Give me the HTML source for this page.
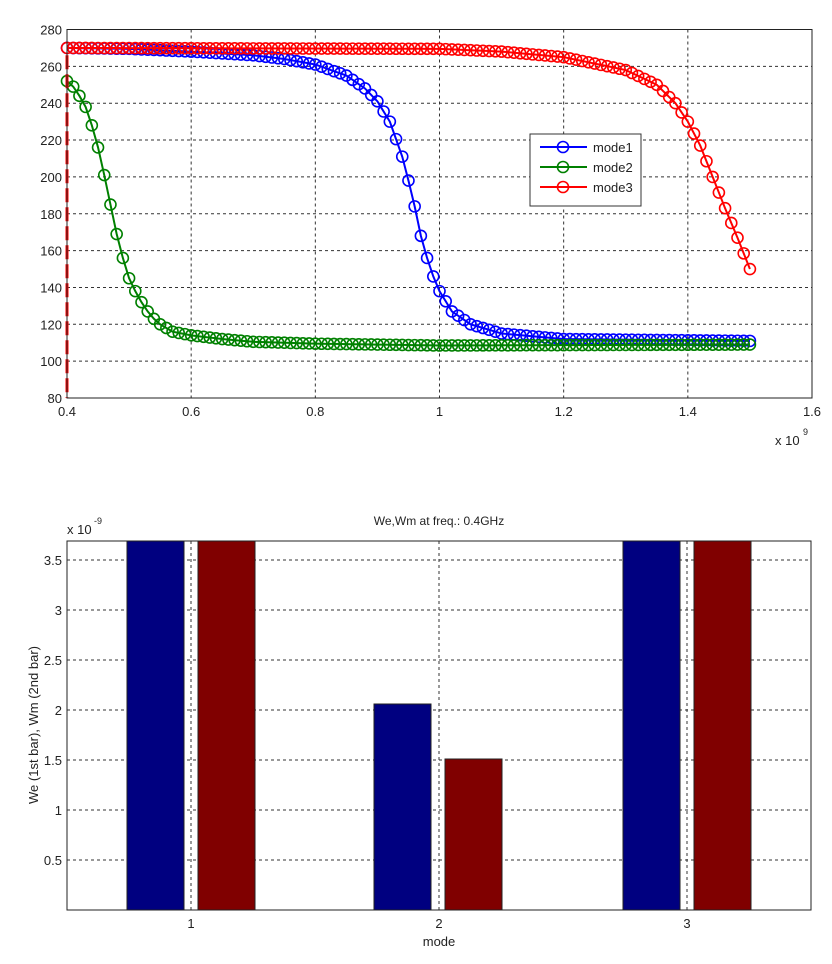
<!DOCTYPE html>
<html><head><meta charset="utf-8"><style>
html,body{margin:0;padding:0;background:#fff;width:832px;height:964px;overflow:hidden}
svg{display:block}
text{font-family:"Liberation Sans",sans-serif;fill:#222}
</style></head><body>
<svg id="s" width="832" height="964" xmlns="http://www.w3.org/2000/svg">
<rect width="832" height="964" fill="#fff"/>
<g id="gtop"></g>
<g id="gbot"></g>
</svg>
<script>
(function(){
const NS="http://www.w3.org/2000/svg";
function el(p,t,a,txt){const e=document.createElementNS(NS,t);for(const k in a)e.setAttribute(k,a[k]);if(txt!==undefined)e.textContent=txt;p.appendChild(e);return e;}
const gTop=document.getElementById('gtop'),gBot=document.getElementById('gbot');
const L=67,R=812,T=29.5,B=398;
const fx=f=>L+(f-0.4)/1.2*(R-L), fy=v=>B-(v-80)/200*(B-T);
for(let i=1;i<6;i++){const x=fx(0.4+i*0.2);el(gTop,'line',{x1:x,y1:T,x2:x,y2:B,stroke:'#333','stroke-dasharray':'3,3','stroke-width':1});}
for(let v=100;v<280;v+=20){const y=fy(v);el(gTop,'line',{x1:L,y1:y,x2:R,y2:y,stroke:'#333','stroke-dasharray':'3,3','stroke-width':1});}
['0.4','0.6','0.8','1','1.2','1.4','1.6'].forEach((t,i)=>el(gTop,'text',{x:fx(0.4+i*0.2),y:B+18,'font-size':13,'text-anchor':'middle'},t));
for(let v=80;v<=280;v+=20){el(gTop,'text',{x:L-5,y:fy(v)+5,'font-size':13,'text-anchor':'end'},v);}
el(gTop,'text',{x:775,y:445,'font-size':13},'x 10');
el(gTop,'text',{x:803,y:435,'font-size':9},'9');
function interp(tb,f){for(let i=0;i<tb.length-1;i++){if(f<=tb[i+1][0]){const t=(f-tb[i][0])/(tb[i+1][0]-tb[i][0]);return tb[i][1]+t*(tb[i+1][1]-tb[i][1]);}}return tb[tb.length-1][1];}
const g1=[[0.4,270],[0.5,269.5],[0.6,268],[0.7,266],[0.75,264],[0.8,261],[0.85,255],[0.88,248],[0.9,241],[0.92,230],[0.94,211],[0.95,198],[0.96,184],[0.97,168],[0.98,156],[0.99,146],[1.0,138],[1.02,127],[1.05,120],[1.1,115],[1.2,112],[1.5,111]];
const g2=[[0.4,252],[0.41,249],[0.42,244],[0.43,238],[0.44,228],[0.45,216],[0.46,201],[0.47,185],[0.48,169],[0.49,156],[0.5,145],[0.51,138],[0.52,132],[0.53,127],[0.54,123],[0.55,120],[0.57,116],[0.6,114],[0.65,112],[0.7,110.5],[0.8,109.5],[1.0,108.5],[1.5,109]];
const g3=[[0.4,270],[1.0,269.5],[1.1,268],[1.2,265],[1.3,258],[1.35,250],[1.38,240],[1.4,230],[1.42,217],[1.44,200],[1.46,183],[1.48,167],[1.5,150]];
const series=[[g1,'#0000ff'],[g2,'#008000'],[g3,'#ff0000']];
series.forEach(([tb,c])=>{let pts=[];for(let i=0;i<=110;i++){const f=0.4+i*0.01;pts.push([fx(f),fy(interp(tb,f))]);}
 el(gTop,'polyline',{points:pts.map(p=>p.join(',')).join(' '),fill:'none',stroke:c,'stroke-width':2});
 pts.forEach(p=>el(gTop,'circle',{cx:p[0],cy:p[1],r:5.5,fill:'none',stroke:c,'stroke-width':1.6}));
});
el(gTop,'line',{x1:L,y1:fy(266),x2:L,y2:B,stroke:'#ff0000','stroke-width':3,'stroke-dasharray':'14,5'});
el(gTop,'rect',{x:L,y:T,width:R-L,height:B-T,fill:'none',stroke:'#222','stroke-width':1});
el(gTop,'rect',{x:530,y:134,width:111,height:72,fill:'#fff',stroke:'#333','stroke-width':1});
[['mode1','#0000ff',147],['mode2','#008000',167],['mode3','#ff0000',187]].forEach(([t,c,y])=>{
 el(gTop,'line',{x1:540,y1:y,x2:587,y2:y,stroke:c,'stroke-width':2});
 el(gTop,'circle',{cx:563,cy:y,r:5.5,fill:'none',stroke:c,'stroke-width':1.6});
 el(gTop,'text',{x:593,y:y+5,'font-size':13},t);});
const L2=67,R2=811,T2=541,B2=910;
const by=v=>B2-v/0.5*50;
[191,439,687].forEach(x=>el(gBot,'line',{x1:x,y1:T2,x2:x,y2:B2,stroke:'#333','stroke-dasharray':'3,3'}));
for(let i=1;i<=7;i++){const y=by(i*0.5);el(gBot,'line',{x1:L2,y1:y,x2:R2,y2:y,stroke:'#333','stroke-dasharray':'3,3'});el(gBot,'text',{x:L2-5,y:y+5,'font-size':13,'text-anchor':'end'},(i*0.5).toString());}
const bars=[[127,T2,'#000080'],[198,T2,'#800000'],[374,704,'#000080'],[445,759,'#800000'],[623,T2,'#000080'],[694,T2,'#800000']];
bars.forEach(([x,y,c])=>el(gBot,'rect',{x:x,y:y,width:57,height:B2-y,fill:c,stroke:'#222','stroke-width':1}));
el(gBot,'rect',{x:L2,y:T2,width:R2-L2,height:B2-T2,fill:'none',stroke:'#222','stroke-width':1});
[[191,'1'],[439,'2'],[687,'3']].forEach(([x,t])=>el(gBot,'text',{x:x,y:B2+18,'font-size':13,'text-anchor':'middle'},t));
el(gBot,'text',{x:439,y:946,'font-size':13,'text-anchor':'middle'},'mode');
el(gBot,'text',{x:439,y:525,'font-size':12,'text-anchor':'middle'},'We,Wm at freq.: 0.4GHz');
el(gBot,'text',{x:67,y:534,'font-size':13},'x 10');
el(gBot,'text',{x:94,y:524,'font-size':9},'-9');
el(gBot,'text',{x:38,y:725,'font-size':13,'text-anchor':'middle',transform:'rotate(-90 38 725)'},'We (1st bar), Wm (2nd bar)');
})();
</script>
</body></html>
